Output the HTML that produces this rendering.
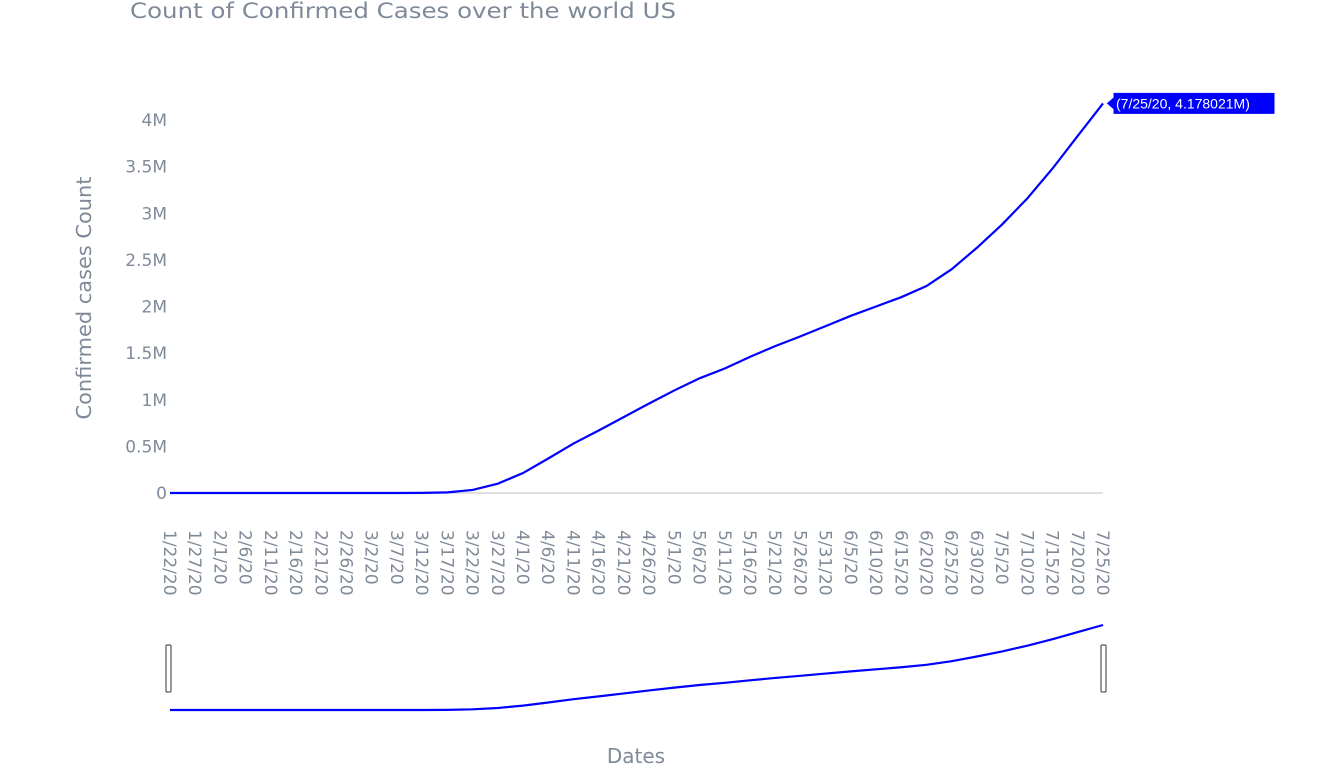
<!DOCTYPE html>
<html><head><meta charset="utf-8"><style>
html,body{margin:0;padding:0;background:#fff;}
svg{display:block;font-family:"DejaVu Sans","Liberation Sans",sans-serif;}
</style></head><body>
<svg id="chart" width="1344" height="773" viewBox="0 0 1344 773" xmlns="http://www.w3.org/2000/svg">
<text x="130" y="18" font-size="21.5" fill="#7f8a99" textLength="546" lengthAdjust="spacingAndGlyphs">Count of Confirmed Cases over the world US</text>
<text transform="translate(91,298) rotate(-90)" text-anchor="middle" font-size="20" fill="#7f8a99" textLength="243" lengthAdjust="spacingAndGlyphs">Confirmed cases Count</text>
<text x="636" y="763" text-anchor="middle" font-size="20" fill="#7f8a99">Dates</text>
<g id="plot"></g>
</svg>
<script>
const dates = ["1/22/20","1/27/20","2/1/20","2/6/20","2/11/20","2/16/20","2/21/20","2/26/20","3/2/20","3/7/20","3/12/20","3/17/20","3/22/20","3/27/20","4/1/20","4/6/20","4/11/20","4/16/20","4/21/20","4/26/20","5/1/20","5/6/20","5/11/20","5/16/20","5/21/20","5/26/20","5/31/20","6/5/20","6/10/20","6/15/20","6/20/20","6/25/20","6/30/20","7/5/20","7/10/20","7/15/20","7/20/20","7/25/20"];
const cases = [1,5,8,12,13,15,15,60,100,400,1600,6400,33000,100000,214000,370000,530000,670000,815000,960000,1100000,1230000,1335000,1460000,1575000,1680000,1790000,1900000,2000000,2100000,2220000,2400000,2630000,2880000,3160000,3480000,3830000,4178021];
const yTicks = [0,500000,1000000,1500000,2000000,2500000,3000000,3500000,4000000];
const yTickLabels = ["0","0.5M","1M","1.5M","2M","2.5M","3M","3.5M","4M"];

const NS="http://www.w3.org/2000/svg";
const g=document.getElementById('plot');
const X0=170,X1=1103,Y0=493,YPX=93.25/1e6;
const xs=i=>X0+(X1-X0)*i/(dates.length-1);
const ys=v=>Y0-v*YPX;
const maxV=Math.max(...cases);
const rsTop=625,rsBot=710;
const ry=v=>rsBot-(rsBot-rsTop)*v/maxV;
function mk(t,a){const e=document.createElementNS(NS,t);for(const k in a)e.setAttribute(k,a[k]);g.appendChild(e);return e;}

const zl=mk('line',{x1:X0,x2:X1,y1:Y0,y2:Y0,stroke:'#d6d6d6','stroke-width':1.5});



yTicks.forEach((v,i)=>{
 const t=mk('text',{x:167,y:ys(v)+6,'text-anchor':'end','font-size':17,fill:'#7f8a99'});
 t.textContent=yTickLabels[i];
 
 
});
dates.forEach((d,i)=>{
 const x=xs(i);
 const t=mk('text',{transform:`translate(${x-6},530) rotate(90)`,'font-size':17,fill:'#7f8a99'});
 t.textContent=d;
 
 
});
const line=mk('polyline',{points:cases.map((v,i)=>xs(i)+','+ys(v)).join(' '),fill:'none',stroke:'#0000ff','stroke-width':2.2});



const lx=xs(cases.length-1),lyv=ys(cases[cases.length-1]);
const hb=mk('path',{d:`M${lx+3},${lyv} L${lx+10},${lyv-6} L${lx+10},${lyv-11} L${lx+172},${lyv-11} L${lx+172},${lyv+11} L${lx+10},${lyv+11} L${lx+10},${lyv+6} Z`,fill:'#0000ff',stroke:'#ffffff','stroke-width':1});


const ht=mk('text',{x:lx+13,y:lyv+5,'font-size':14,fill:'#ffffff','font-family':'Liberation Sans, sans-serif'});
ht.textContent='(7/25/20, 4.178021M)';



const rl=mk('polyline',{points:cases.map((v,i)=>xs(i)+','+ry(v)).join(' '),fill:'none',stroke:'#0000ff','stroke-width':2.2});


[X0-4,X1-2].forEach((x,k)=>{
 const h=mk('rect',{x:x,y:645,width:5,height:47,rx:1,fill:'#fff',stroke:'#333','stroke-width':1});
 
 
});
</script>
</body></html>
